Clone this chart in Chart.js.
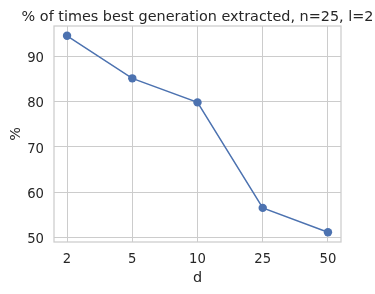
<!DOCTYPE html>
<html>
<head>
<meta charset="utf-8">
<script src="https://cdn.jsdelivr.net/npm/chart.js@4/dist/chart.umd.min.js"></script>
<style>
  html, body { margin: 0; padding: 0; background: #ffffff; }
  #wrap { width: 375px; height: 294px; }
</style>
</head>
<body>
<div id="wrap"><canvas id="c" width="375" height="294"></canvas></div>
<script>
const categories = ["2", "5", "10", "25", "50"];
const percentValues = [94.47, 85.1, 79.8, 56.55, 51.2];
const yTicks = [50, 60, 70, 80, 90];
const titleText = "% of times best generation extracted, n=25, l=2";
const xLabel = "d";
const yLabel = "%";

const ink = "#262626";
const gridColor = "#cccccc";
const lineColor = "#4c72b0";
const font = "'DejaVu Sans', sans-serif";

const points = categories.map((c, i) => ({ x: i, y: percentValues[i] }));
const lo = Math.min(...percentValues), hi = Math.max(...percentValues);
const marginY = (hi - lo) * 0.05;
const marginX = (categories.length - 1) * 0.05;

// Spines on all four sides + title centred over the axes (matplotlib style)
const frameAndTitle = {
  id: 'frameAndTitle',
  afterDraw(chart) {
    const { ctx, chartArea: a } = chart;
    ctx.save();
    ctx.strokeStyle = gridColor;
    ctx.lineWidth = 1.25;
    ctx.strokeRect(a.left, a.top, a.right - a.left, a.bottom - a.top);
    ctx.fillStyle = ink;
    ctx.font = "14.4px " + font;
    ctx.textAlign = 'center';
    ctx.textBaseline = 'middle';
    ctx.fillText(titleText, (a.left + a.right) / 2, a.top - 8.8);
    ctx.restore();
  }
};

new Chart(document.getElementById('c'), {
  type: 'line',
  data: {
    datasets: [{
      data: points,
      borderColor: lineColor,
      backgroundColor: lineColor,
      borderWidth: 1.5,
      pointRadius: 4.2,
      pointHoverRadius: 4.2,
      pointBorderWidth: 0,
      tension: 0,
      fill: false
    }]
  },
  options: {
    responsive: false,
    animation: false,
    devicePixelRatio: 1,
    layout: { padding: { left: 0, right: 34, top: 26, bottom: 0 } },
    plugins: {
      legend: { display: false },
      tooltip: { enabled: false },
      title: { display: false }
    },
    scales: {
      x: {
        type: 'linear',
        min: -marginX,
        max: categories.length - 1 + marginX,
        afterBuildTicks(scale) { scale.ticks = categories.map((c, i) => ({ value: i })); },
        afterFit(scale) { scale.height = 52; },
        ticks: {
          color: ink,
          font: { family: font, size: 13.2 },
          padding: 9.8,
          maxRotation: 0,
          callback: (v) => categories[v]
        },
        grid: { color: gridColor, lineWidth: 1, drawTicks: false, tickLength: 0 },
        border: { display: false },
        title: {
          display: true, text: xLabel, color: ink,
          font: { family: font, size: 14.4, lineHeight: 1.2 },
          padding: { top: 0, bottom: 7 }
        }
      },
      y: {
        type: 'linear',
        min: lo - marginY,
        max: hi + marginY,
        afterBuildTicks(scale) { scale.ticks = yTicks.map(v => ({ value: v })); },
        afterFit(scale) { scale.width = 54; },
        ticks: {
          color: ink,
          font: { family: font, size: 13.2 },
          padding: 10,
          labelOffset: 2.4
        },
        grid: { color: gridColor, lineWidth: 1, drawTicks: false, tickLength: 0 },
        border: { display: false },
        title: {
          display: true, text: yLabel, color: ink,
          font: { family: font, size: 14.4, lineHeight: 1.2 },
          padding: { top: 7.4, bottom: 0 }
        }
      }
    }
  },
  plugins: [frameAndTitle]
});
</script>
</body>
</html>
